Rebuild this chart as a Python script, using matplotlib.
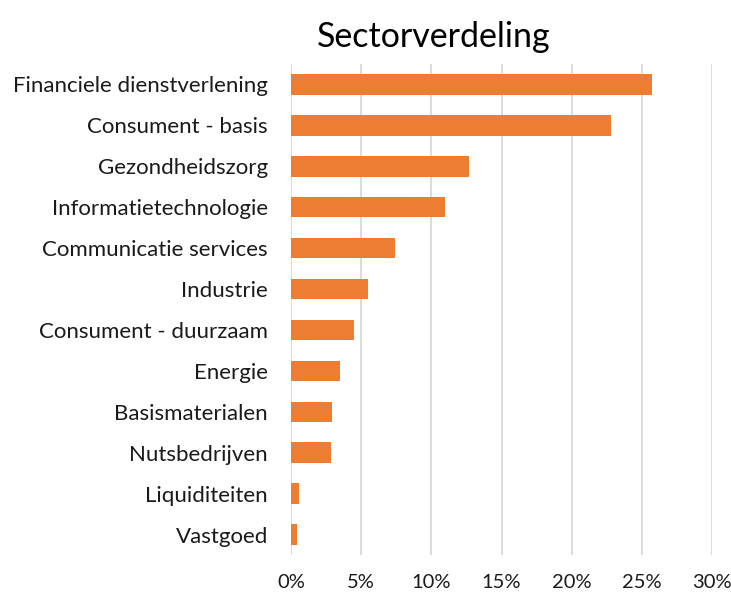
import matplotlib
matplotlib.use("Agg")
import matplotlib.pyplot as plt
from matplotlib.ticker import FuncFormatter

categories = ["Financiele dienstverlening", "Consument - basis", "Gezondheidszorg",
              "Informatietechnologie", "Communicatie services", "Industrie",
              "Consument - duurzaam", "Energie", "Basismaterialen", "Nutsbedrijven",
              "Liquiditeiten", "Vastgoed"]
values = [25.7, 22.8, 12.65, 10.95, 7.43, 5.5, 4.48, 3.5, 2.93, 2.85, 0.57, 0.45]
xticks = [0, 5, 10, 15, 20, 25, 30]

plt.rcParams['font.family'] = ['Lato', 'DejaVu Sans']

fig = plt.figure(figsize=(7.31, 5.93), dpi=100)
ax = fig.add_axes([291/731, (593-555)/593, (712-291)/731, (555-64)/593])

n = len(categories)
ypos = list(range(n))
ax.barh(ypos, values, height=0.5, color="#ED7D31", zorder=3)
ax.set_ylim(n - 0.5, -0.5)
ax.set_xlim(0, 30)
ax.set_xticks(xticks)
ax.xaxis.set_major_formatter(FuncFormatter(lambda v, p: f"{v:.0f}%"))
ax.set_yticks(ypos)
ax.set_yticklabels(categories)
ax.tick_params(axis='both', length=0, colors="#1a1a1a")
ax.tick_params(axis='y', pad=16.5, labelsize=16)
ax.tick_params(axis='x', pad=13.5, labelsize=14.5)
ax.grid(axis='x', color="#D9D9D9", linewidth=1.3, zorder=0)
for s in ax.spines.values():
    s.set_visible(False)

fig.text(433.5/731, 1 - 47/593, "Sectorverdeling", ha='center', va='baseline',
         fontsize=24.5, color="#000000")

fig.savefig("out.png", dpi=100)
